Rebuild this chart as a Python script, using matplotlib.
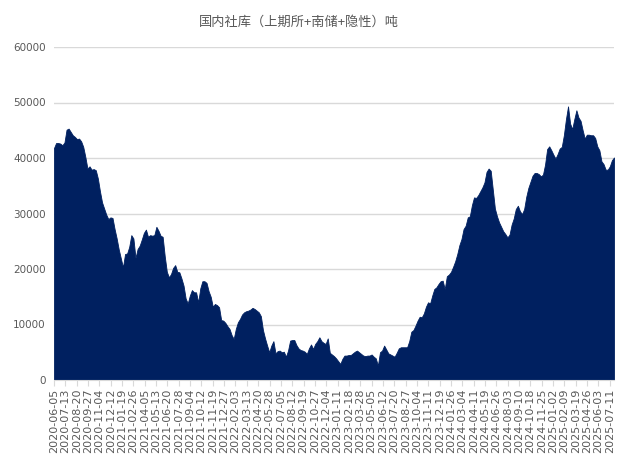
import matplotlib
matplotlib.use("Agg")
import matplotlib.pyplot as plt
import matplotlib.dates as mdates
import pandas as pd
import numpy as np

plt.rcParams['font.family'] = ['Noto Sans CJK SC', 'DejaVu Sans']

title = "国内社库（上期所+南储+隐性）吨"
start_date = "2020-06-05"
end_date = "2025-07-25"

# weekly inventory (tonnes)
stock = [
    41800, 42700, 42700, 42600, 42300, 42800, 45100, 45300, 44700, 44100,
    43800, 43400, 43500, 43000, 42000, 40200, 38100, 38500, 37900, 38000,
    37800, 36300, 34000, 32000, 30900, 29800, 29000, 29300, 29200, 27200,
    25500, 23500, 21900, 20300, 22700, 22800, 24000, 26100, 25500, 22000,
    23600, 24200, 25300, 26500, 27100, 25800, 26100, 26000, 26100, 27600,
    26900, 26000, 25800, 22300, 19500, 18500, 19100, 20200, 20700, 19500,
    19400, 18300, 17000, 14700, 13800, 15200, 16200, 15800, 15800, 14000,
    16500, 17800, 17800, 17500, 16000, 15000, 13200, 13700, 13500, 13100,
    10800, 10700, 10300, 9700, 9200, 8100, 7400, 9200, 10400, 11000,
    11800, 12200, 12400, 12500, 12700, 13000, 12800, 12500, 12200, 11500,
    9000, 7500, 6200, 5000, 6200, 7000, 4800, 5200, 5300, 5000,
    5100, 4200, 5300, 7100, 7200, 7200, 6300, 5700, 5400, 5300,
    5100, 4700, 5700, 6400, 5600, 6500, 7000, 7700, 7000, 6700,
    6500, 7500, 4900, 4600, 4300, 3900, 3400, 2900, 3800, 4400,
    4400, 4500, 4500, 4800, 5100, 5300, 5000, 4700, 4400, 4300,
    4400, 4400, 4600, 4200, 3900, 2600, 5000, 5300, 6200, 5500,
    4800, 4600, 4400, 4200, 4900, 5700, 5900, 5900, 5900, 5900,
    7000, 8700, 9000, 9800, 10700, 11400, 11300, 12000, 13200, 14000,
    13800, 15200, 16400, 16700, 17300, 17800, 17900, 16400, 18700, 19000,
    19500, 20400, 21400, 22700, 24300, 25400, 27200, 27800, 29300, 29500,
    31500, 32900, 32800, 33300, 34000, 34700, 35600, 37500, 38100, 37700,
    34300, 30900, 29500, 28400, 27600, 26800, 26300, 25700, 26200, 28000,
    29100, 30800, 31400, 30400, 29900, 30800, 33000, 34600, 35700, 36800,
    37300, 37300, 37100, 36700, 37000, 38800, 41600, 42100, 41400, 40600,
    39900, 40700, 41700, 42000, 44100, 47000, 49300, 46200, 45200, 47000,
    48600, 47300, 46700, 45000, 43500, 44200, 44200, 44100, 44100, 43600,
    42100, 41400, 39400, 38900, 37900, 37900, 38500, 39600, 40100,
]

yticks = [0, 10000, 20000, 30000, 40000, 50000, 60000]

dates = pd.date_range(start_date, periods=len(stock), freq="7D")
tick_dates = pd.date_range(start_date, end_date, freq="38D")

fig = plt.figure(figsize=(6.19, 4.57), dpi=100)
ax = fig.add_axes([54/619, 1-380/457, (614-54)/619, (380-47)/457])

ax.fill_between(dates, stock, 0, color="#002060", linewidth=0.6, edgecolor="#002060", zorder=2)

ax.set_xlim(dates[0], pd.Timestamp(end_date))
ax.set_ylim(0, 60000)
ax.set_yticks(yticks)
ax.set_yticklabels([str(v) for v in yticks], fontsize=7.5, color="#595959",
                   family=["DejaVu Sans"])
ax.grid(axis="y", color="#d9d9d9", linewidth=1.0, zorder=0)
ax.set_axisbelow(True)

ax.set_xticks(tick_dates)
ax.set_xticklabels([d.strftime("%Y-%m-%d") for d in tick_dates], rotation=90,
                   fontsize=8, color="#595959", family=["DejaVu Sans"])

for s in ["top", "right", "left"]:
    ax.spines[s].set_visible(False)
ax.spines["bottom"].set_color("#d9d9d9")
ax.tick_params(axis="y", length=0, pad=6)
ax.tick_params(axis="x", length=4, color="#d9d9d9", pad=2)

fig.text(299/619, 1-22/457, title, ha="center", va="center", fontsize=9.5,
         color="#595959")

fig.savefig("out.png", dpi=100)
